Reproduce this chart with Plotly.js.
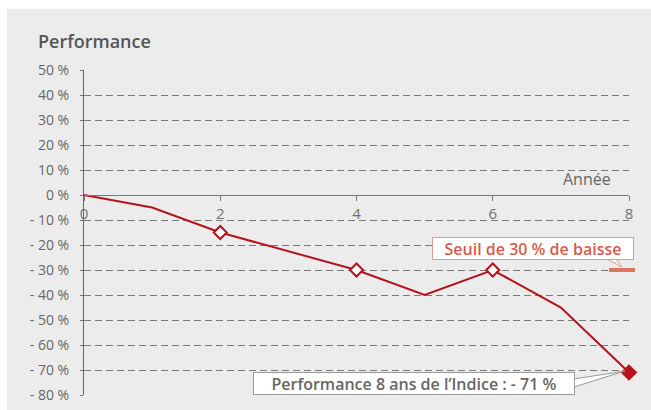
<!DOCTYPE html>
<html>
<head>
<meta charset="utf-8">
<script src="https://cdn.plot.ly/plotly-3.0.1.min.js"></script>
<style>
  html, body { margin: 0; padding: 0; background: #ffffff; width: 651px; height: 410px; overflow: hidden; }
  #chart { position: absolute; left: 7px; top: 9px; width: 644px; height: 401px; }
</style>
</head>
<body>
<div id="chart"></div>
<script>
// ---- data ----
const years = [0, 1, 2, 3, 4, 5, 6, 7, 8];
const performance = [0, -5, -15, -22.5, -30, -40, -30, -45, -71];
const openMarkerYears = [2, 4, 6];
const finalYear = [8];
const yTickValues = [50, 40, 30, 20, 10, 0, -10, -20, -30, -40, -50, -60, -70, -80];
const yTickLabels = ['50 %', '40 %', '30 %', '20 %', '10 %', '0 %', '- 10 %', '- 20 %', '- 30 %', '- 40 %', '- 50 %', '- 60 %', '- 70 %', '- 80 %'];
const xTickValues = [0, 2, 4, 6, 8];
const thresholdValue = [-30];
const thresholdLabel = 'Seuil de 30 % de baisse';
const finalLabel = 'Performance 8 ans de l\u2019Indice : - 71 %';
const chartTitle = 'Performance';
const xAxisTitle = 'Ann\u00e9e';

const red = '#b5121b';
const font = '"Open Sans", "DejaVu Sans", sans-serif';

const pick = (xs) => xs.map(x => performance[years.indexOf(x)]);

// pixel -> paper helpers for decorative callout wedges (plot area 84..629 x 70..395 in page px)
const PX = (px) => ((px - 84) / 545).toFixed(4);
const PY = (py) => ((395 - py) / 325).toFixed(4);
const poly = (pts) => 'M ' + pts.map(p => PX(p[0]) + ' ' + PY(p[1])).join(' L ') + ' Z';

const traces = [
  {
    x: years, y: performance, type: 'scatter', mode: 'lines',
    line: { color: red, width: 2 }, hoverinfo: 'skip', cliponaxis: false
  },
  {
    x: openMarkerYears, y: pick(openMarkerYears), type: 'scatter', mode: 'markers',
    marker: { symbol: 'diamond', size: 10, color: '#ffffff', line: { color: red, width: 2 } },
    cliponaxis: false, hoverinfo: 'skip'
  },
  {
    x: finalYear, y: pick(finalYear), type: 'scatter', mode: 'markers',
    marker: { symbol: 'diamond', size: 12, color: red, line: { color: red, width: 1 } },
    cliponaxis: false, hoverinfo: 'skip'
  }
];

const layout = {
  width: 644, height: 401,
  paper_bgcolor: '#ececec', plot_bgcolor: '#ececec',
  margin: { l: 77, r: 22, t: 61, b: 15, pad: 0 },
  showlegend: false,
  font: { family: font, color: '#666666', size: 14 },
  title: {
    text: chartTitle,
    xref: 'container', yref: 'container',
    x: 31 / 644, xanchor: 'left', y: 1 - 33 / 401, yanchor: 'middle',
    font: { family: font, size: 18, weight: 600, color: '#555555' }
  },
  xaxis: {
    range: [0, 8], anchor: 'free', position: 80 / 130,
    tickvals: xTickValues, ticktext: xTickValues.map(String),
    showgrid: false, zeroline: false,
    showline: true, linecolor: '#777777', linewidth: 1,
    ticks: 'outside', ticklen: 5, tickcolor: '#777777',
    tickfont: { family: font, size: 15, color: '#707070' }
  },
  yaxis: {
    range: [-80, 50],
    tickvals: yTickValues, ticktext: yTickLabels,
    showgrid: true, gridcolor: '#7a7a7a', griddash: '7px,4px', gridwidth: 1,
    zeroline: false,
    showline: true, linecolor: '#666666', linewidth: 1,
    ticks: 'outside', ticklen: 3, tickcolor: '#777777',
    ticklabelstandoff: 8,
    tickfont: { family: font, size: 14, color: '#666666' }
  },
  shapes: [
    {
      type: 'line', xref: 'paper', yref: 'y',
      x0: (609 - 84) / 545, x1: (635 - 84) / 545,
      y0: thresholdValue[0], y1: thresholdValue[0],
      line: { color: '#dd7565', width: 4 }
    },
    {
      type: 'path', xref: 'paper', yref: 'paper',
      path: poly([[605, 258], [615, 258], [622, 267]]),
      fillcolor: '#ffffff', line: { color: '#e39a8e', width: 1 }
    },
    {
      type: 'path', xref: 'paper', yref: 'paper',
      path: poly([[574, 379], [625, 371], [574, 387]]),
      fillcolor: '#ffffff', line: { color: '#9a9a9a', width: 1 }
    }
  ],
  annotations: [
    {
      text: xAxisTitle, x: (587 - 84) / 68.125, y: 6.4, xref: 'x', yref: 'y',
      showarrow: false, font: { family: font, size: 16, color: '#666666' }
    },
    {
      text: thresholdLabel,
      x: (533 - 84) / 68.125, y: (195 - 248) / 2.5, xref: 'x', yref: 'y',
      showarrow: false,
      bgcolor: '#ffffff', bordercolor: '#e39a8e', borderwidth: 1, borderpad: 3,
      width: 194, height: 15,
      font: { family: font, size: 16, weight: 600, color: '#d95a4c' }
    },
    {
      text: finalLabel,
      x: (414 - 84) / 68.125, y: (195 - 383.5) / 2.5, xref: 'x', yref: 'y',
      showarrow: false,
      bgcolor: '#ffffff', bordercolor: '#9a9a9a', borderwidth: 1, borderpad: 3,
      width: 314, height: 15,
      font: { family: font, size: 16, weight: 600, color: '#666666' }
    }
  ]
};

Plotly.newPlot('chart', traces, layout, { displayModeBar: false, staticPlot: true });
</script>
</body>
</html>
